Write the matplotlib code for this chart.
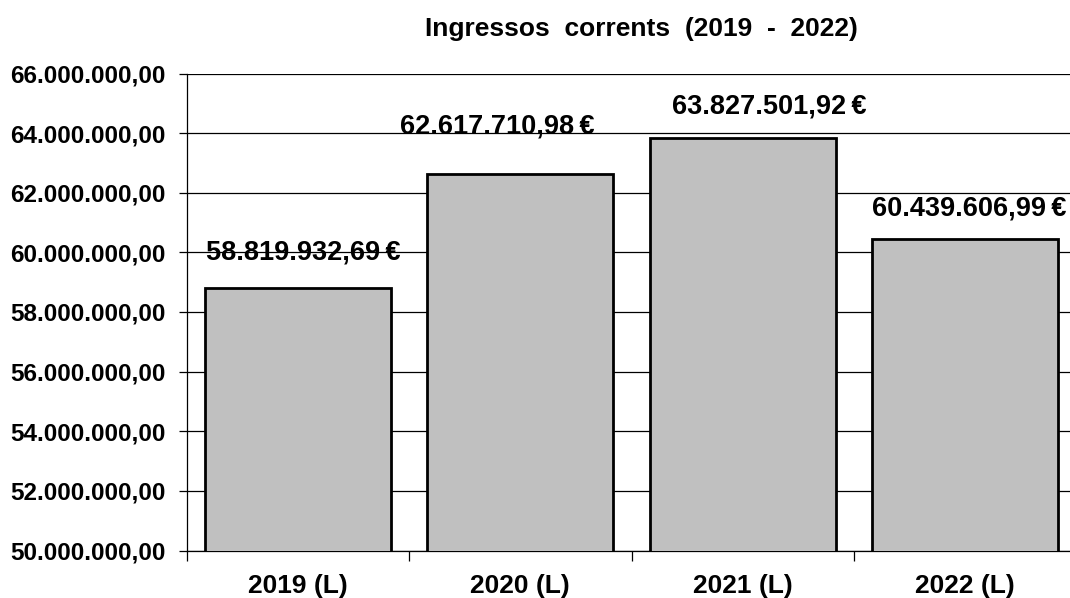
import matplotlib.pyplot as plt
from matplotlib.ticker import FuncFormatter

years = ['2019 (L)', '2020 (L)', '2021 (L)', '2022 (L)']
values = [58819932.69, 62617710.98, 63827501.92, 60439606.99]
labels = ['58.819.932,69\u2009€', '62.617.710,98\u2009€', '63.827.501,92\u2009€', '60.439.606,99\u2009€']
yticks = list(range(50000000, 66000001, 2000000))

plt.rcParams['font.family'] = ['Liberation Sans', 'DejaVu Sans']
plt.rcParams['font.weight'] = 'bold'


def es_fmt(v, pos):
    s = '{:,.2f}'.format(v)
    return s.replace(',', 'X').replace('.', ',').replace('X', '.')


fig = plt.figure(figsize=(10.7, 5.98), dpi=100)
ax = fig.add_axes([186.5 / 1070, 1 - 550.5 / 598, 890 / 1070, 477 / 598])

x = range(len(years))
ax.bar(x, values, width=0.836, color='#c0c0c0', edgecolor='black', linewidth=2, zorder=3)
ax.set_xlim(-0.5, 3.5)
ax.set_ylim(50000000, 66000000)
ax.set_yticks(yticks)
ax.yaxis.set_major_formatter(FuncFormatter(es_fmt))
ax.grid(axis='y', color='black', linewidth=0.9, zorder=0)

ax.set_xticks([-0.5, 0.5, 1.5, 2.5, 3.5])
ax.set_xticklabels([])
ax.set_xticks(list(x), minor=True)
ax.set_xticklabels(years, minor=True)
ax.tick_params(axis='x', which='major', length=7, direction='out', width=0.9)
ax.tick_params(axis='x', which='minor', length=0, labelsize=19, pad=17)
ax.tick_params(axis='y', length=6, direction='out', width=0.9, labelsize=17.5, pad=9)

for s in ['top', 'right']:
    ax.spines[s].set_visible(False)
ax.spines['left'].set_linewidth(0.9)
ax.spines['bottom'].set_linewidth(0.9)

# label offsets in pixels (dx, dy above bar top), as placed in the original
offs = [(6, 28), (-23, 41), (26, 25), (4, 24)]
for i, (v, t) in enumerate(zip(values, labels)):
    dx, dy = offs[i]
    ax.annotate(t, (i, v), xytext=(dx * 0.72, dy * 0.72), textcoords='offset points',
                ha='center', va='baseline', fontsize=19.5, fontweight='bold', zorder=4)

fig.text(641 / 1070, 1 - 36 / 598, 'Ingressos  corrents  (2019  -  2022)', ha='center',
         va='baseline', fontsize=19, fontweight='bold')

fig.savefig('out.png', dpi=100)
